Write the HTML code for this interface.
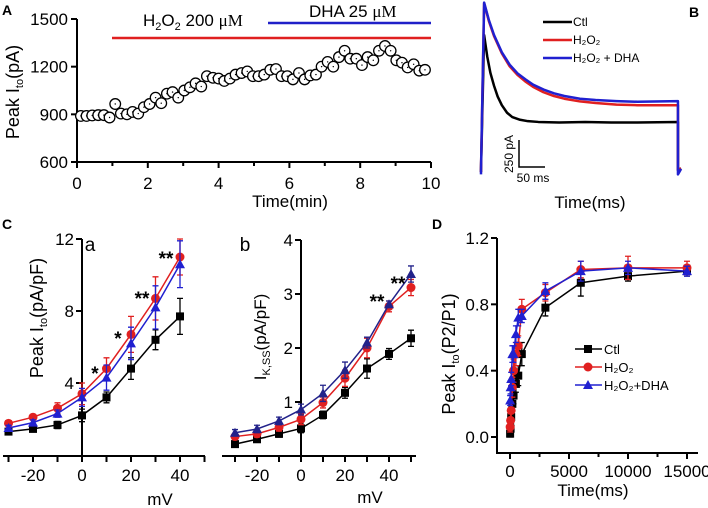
<!DOCTYPE html>
<html><head><meta charset="utf-8"><style>
html,body{margin:0;padding:0;background:#fff;}
svg{display:block;font-family:"Liberation Sans",Arial,sans-serif;}
</style></head><body>
<svg id="fig" width="708" height="508" viewBox="0 0 708 508" xmlns="http://www.w3.org/2000/svg">
<g id="layer"></g>
</svg>
<script>
// ---------- Panel A data ----------
const aTimes=[0.11,0.27,0.43,0.60,0.76,0.92,1.08,1.24,1.41,1.57,1.73,1.89,2.05,2.22,2.38,2.54,2.70,2.86,3.03,3.19,3.35,3.51,3.67,3.84,4.00,4.16,4.32,4.48,4.65,4.81,4.97,5.13,5.29,5.46,5.62,5.78,5.94,6.10,6.27,6.43,6.59,6.75,6.91,7.08,7.24,7.40,7.56,7.72,7.89,8.05,8.21,8.37,8.53,8.70,8.86,9.02,9.18,9.34,9.51,9.67,9.83];
const aValues=[890,890,893,895,895,880,965,905,900,915,905,945,965,1005,970,1030,1040,1005,1050,1070,1095,1075,1140,1130,1125,1110,1125,1150,1160,1170,1140,1140,1150,1180,1185,1140,1140,1120,1160,1120,1145,1150,1200,1230,1200,1260,1300,1250,1250,1210,1260,1240,1300,1330,1300,1240,1225,1195,1215,1175,1180];
const aXTicks=[0,2,4,6,8,10];
const aYTicks=[600,900,1200,1500];
// ---------- Panel B traces (ms, pA) ----------
const bCtlT=[0,0,6,12,18,25,32,40,50,60,75,90,110,150,200,250,300,378,378,384];
const bCtlI=[-20,0,1250,1050,900,780,680,600,530,490,465,452,445,440,445,440,440,445,0,15];
const bH2T=[0,0,6,15,25,40,55,70,85,100,120,140,160,190,220,260,300,378,378,384];
const bH2I=[-20,0,1546,1380,1240,1080,960,880,820,770,720,685,660,635,620,605,600,600,0,15];
const bDhaT=[0,0,6,15,25,40,55,70,85,100,120,140,160,190,220,260,300,378,378,384];
const bDhaI=[-40,0,1550,1390,1250,1090,975,895,840,790,745,710,685,660,648,638,632,638,-40,10];
// ---------- Panel Ca ----------
const caV=[-30,-20,-10,0,10,20,30,40];
const caCtl=[1.3,1.45,1.67,2.2,3.2,4.8,6.4,7.7];
const caCtlErr=[0.15,0.15,0.2,0.35,0.3,0.6,0.55,1.0];
const caH2=[1.76,2.1,2.6,3.4,4.8,6.7,8.7,11.0];
const caH2Err=[0.15,0.15,0.3,0.6,0.6,1.0,1.2,1.0];
const caDha=[1.5,1.8,2.3,3.2,4.3,6.2,8.2,10.6];
const caDhaErr=[0.15,0.15,0.2,0.5,0.7,0.9,1.2,1.3];
const caXTicks=[-20,0,20,40];
const caYTicks=[4,8,12];
// ---------- Panel Cb ----------
const cbV=[-30,-20,-10,0,10,20,30,40,50];
const cbCtl=[0.22,0.31,0.41,0.51,0.76,1.17,1.62,1.89,2.18];
const cbCtlErr=[0.05,0.05,0.06,0.08,0.07,0.1,0.18,0.1,0.15];
const cbH2=[0.36,0.41,0.53,0.68,0.99,1.44,2.0,2.77,3.12];
const cbH2Err=[0.05,0.06,0.07,0.1,0.1,0.15,0.18,0.1,0.15];
const cbDha=[0.43,0.5,0.65,0.86,1.16,1.59,2.1,2.81,3.37];
const cbDhaErr=[0.06,0.07,0.07,0.1,0.15,0.15,0.1,0.06,0.15];
const cbXTicks=[-20,0,20,40];
const cbYTicks=[1,2,3,4];
// ---------- Panel D ----------
const dT=[10,50,100,200,300,500,700,1000,3000,6000,10000,15000];
const dCtl=[0.02,0.05,0.12,0.2,0.25,0.32,0.37,0.5,0.78,0.93,0.97,1.0];
const dCtlErr=[0.02,0.03,0.04,0.04,0.05,0.05,0.06,0.07,0.05,0.08,0.03,0.03];
const dH2=[0.06,0.1,0.16,0.3,0.4,0.5,0.55,0.77,0.87,1.01,1.02,1.02];
const dH2Err=[0.03,0.04,0.05,0.06,0.07,0.07,0.06,0.06,0.05,0.05,0.07,0.04];
const dDha=[0.22,0.3,0.35,0.5,0.5,0.62,0.72,0.73,0.88,1.0,1.02,1.0];
const dDhaErr=[0.03,0.04,0.04,0.05,0.05,0.05,0.05,0.04,0.05,0.06,0.04,0.03];
const dXTicks=[0,5000,10000,15000];
const dYTicks=[0.0,0.4,0.8,1.2];

const NS="http://www.w3.org/2000/svg";
const L=document.getElementById('layer');
function mk(tag,attrs,parent){const e=document.createElementNS(NS,tag);for(const k in attrs)e.setAttribute(k,attrs[k]);(parent||L).appendChild(e);return e;}
function txt(x,y,s,size,anchor,parent){const t=mk('text',{x:x,y:y,'font-size':size,'text-anchor':anchor||'middle',fill:'#000'},parent);t.textContent=s;return t;}
function lin(d0,d1,r0,r1){return v=>r0+(v-d0)*(r1-r0)/(d1-d0);}

function series(g,X,Y,xs,ys,errs,color,shape,name){
  const sg=mk('g',{},g);
  
  
  let d='';
  xs.forEach((x,i)=>{d+=(i?'L':'M')+X(x)+' '+Y(ys[i]);});
  const p=mk('path',{d:d,fill:'none',stroke:color,'stroke-width':1.5},sg);
  
  
  xs.forEach((x,i)=>{
    const cx=X(x),cy=Y(ys[i]);
    if(errs){const e=errs[i];const y1=Y(ys[i]+e),y2=Y(ys[i]-e);
      const eb=mk('path',{d:`M${cx} ${y1}L${cx} ${y2}M${cx-3} ${y1}L${cx+3} ${y1}M${cx-3} ${y2}L${cx+3} ${y2}`,stroke:color,'stroke-width':1.3,fill:'none'},sg);
      
      }
    let m;
    if(shape==='sq')m=mk('rect',{x:cx-4,y:cy-4,width:8,height:8,fill:color},sg);
    else if(shape==='ci')m=mk('circle',{cx:cx,cy:cy,r:4.5,fill:color},sg);
    else m=mk('path',{d:`M${cx} ${cy-5}L${cx+5} ${cy+4}L${cx-5} ${cy+4}Z`,fill:color},sg);
    
    
  });
}

// ===== Panel A =====
(function(){
  const g=mk('g',{});
  
  
  const X=lin(0,10,77,431),Y=lin(600,1500,162,19);
  txt(7,15,'A',14,'middle',g).setAttribute('font-weight','bold');
  mk('path',{d:`M77 19L77 162L431 162`,stroke:'#000','stroke-width':2,fill:'none'},g);
  aYTicks.forEach(v=>{mk('line',{x1:71,x2:77,y1:Y(v),y2:Y(v),stroke:'#000','stroke-width':2},g);
    const t=txt(68,Y(v)+6,String(v),17,'end',g);});
  for(let v=0;v<=10;v++){mk('line',{x1:X(v),x2:X(v),y1:162,y2:v%2?166:168,stroke:'#000','stroke-width':2},g);}
  aXTicks.forEach(v=>{const t=txt(X(v),189,String(v),17,'middle',g);});
  const xt=txt(290,207,'Time(min)',17,'middle',g);
  const yt=mk('text',{transform:'translate(19,92) rotate(-90)','font-size':18,'text-anchor':'middle'},g);
  yt.innerHTML='Peak I<tspan font-size="11" dy="4">to</tspan><tspan dy="-4">(pA)</tspan>';
  
  const r=mk('line',{x1:112,x2:431,y1:38,y2:38,stroke:'#e02020','stroke-width':2.5},g);
  
  const b=mk('line',{x1:268,x2:431,y1:23,y2:23,stroke:'#2020c8','stroke-width':2.5},g);
  
  const t1=mk('text',{x:143,y:26,'font-size':17},g);
  t1.innerHTML='H<tspan font-size="11" dy="4">2</tspan><tspan dy="-4">O</tspan><tspan font-size="11" dy="4">2</tspan><tspan dy="-4"> 200 </tspan><tspan font-family="Liberation Serif">μM</tspan>';
  
  const t2=mk('text',{x:309,y:17,'font-size':17},g);
  t2.innerHTML='DHA 25 <tspan font-family="Liberation Serif">μM</tspan>';
  
  aTimes.forEach((t,i)=>{const c=mk('circle',{cx:X(t),cy:Y(aValues[i]),r:5.3,fill:'#fff',stroke:'#000','stroke-width':1.3},g);
    
    mk('circle',{cx:X(t),cy:Y(aValues[i]),r:0.7,fill:'#000'},g);});
})();

// ===== Panel B =====
(function(){
  const g=mk('g',{});
  
  
  const X=lin(0,380,481,679),Y=lin(0,250,170,143);
  txt(694,17,'B',14,'middle',g).setAttribute('font-weight','bold');
  function tr(T,I,color,name){let d='';T.forEach((t,i)=>{d+=(i?'L':'M')+X(t)+' '+Y(I[i]);});
    const p=mk('path',{d:d,fill:'none',stroke:color,'stroke-width':2.5,'stroke-linejoin':'round'},g);
    }
  tr(bCtlT,bCtlI,'#000','ctl-trace');
  tr(bH2T,bH2I,'#e02020','h2o2-trace');
  tr(bDhaT,bDhaI,'#2020d0','h2o2-dha-trace');
  const sb=mk('path',{d:'M519 140L519 167L545 167',stroke:'#000','stroke-width':1.5,fill:'none'},g);
  
  const s1=mk('text',{transform:'translate(513,154) rotate(-90)','font-size':12,'text-anchor':'middle'},g);s1.textContent='250 pA';
  txt(533,182,'50 ms',12,'middle',g);
  const leg=[['#000','Ctl',22],['#e02020','H₂O₂',40],['#2020d0','H₂O₂ + DHA',58]];
  leg.forEach(l=>{const ln=mk('line',{x1:543,x2:572,y1:l[2],y2:l[2],stroke:l[0],'stroke-width':2.5},g);
    
    const t=txt(573,l[2]+4,l[1],12,'start',g);});
  const xt=txt(590,208,'Time(ms)',17,'middle',g);
})();

// ===== Panel Ca =====
(function(){
  const g=mk('g',{});
  
  
  const X=lin(0,40,82,180),Y=lin(0,12,455,239);
  txt(7,229,'C',14,'middle',g).setAttribute('font-weight','bold');
  txt(90,251,'a',19,'middle',g);
  mk('line',{x1:82,x2:82,y1:239,y2:456,stroke:'#000','stroke-width':2},g);
  mk('line',{x1:3,x2:205,y1:456,y2:456,stroke:'#000','stroke-width':2},g);
  [-30,-20,-10,0,10,20,30,40,50].forEach(v=>mk('line',{x1:X(v),x2:X(v),y1:456,y2:462,stroke:'#000','stroke-width':2},g));
  caYTicks.forEach(v=>{mk('line',{x1:76,x2:82,y1:Y(v),y2:Y(v),stroke:'#000','stroke-width':2},g);
    const t=txt(74,Y(v)+6,String(v),17,'end',g);});
  caXTicks.forEach(v=>{const t=txt(X(v),481,String(v),17,'middle',g);});
  const xt=txt(160,505,'mV',17,'middle',g);
  const yt=mk('text',{transform:'translate(43,318) rotate(-90)','font-size':18,'text-anchor':'middle'},g);
  yt.innerHTML='Peak I<tspan font-size="11" dy="4">to</tspan><tspan dy="-4">(pA/pF)</tspan>';
  
  series(g,X,Y,caV,caCtl,caCtlErr,'#000','sq','ctl-series');
  series(g,X,Y,caV,caH2,caH2Err,'#e02020','ci','h2o2-series');
  series(g,X,Y,caV,caDha,caDhaErr,'#2020d0','tr','h2o2-dha-series');
  [[95,380,'*'],[118,345,'*'],[142,305,'**'],[166,265,'**']].forEach(s=>{const t=txt(s[0],s[1],s[2],19,'middle',g);t.setAttribute('font-weight','bold');});
})();

// ===== Panel Cb =====
(function(){
  const g=mk('g',{});
  
  
  const X=lin(0,50,301,411),Y=lin(0,4,456,240);
  txt(245,251,'b',19,'middle',g);
  mk('line',{x1:301,x2:301,y1:240,y2:456,stroke:'#000','stroke-width':2},g);
  mk('line',{x1:222,x2:416,y1:456,y2:456,stroke:'#000','stroke-width':2},g);
  [-30,-20,-10,0,10,20,30,40,50].forEach(v=>mk('line',{x1:X(v),x2:X(v),y1:456,y2:462,stroke:'#000','stroke-width':2},g));
  cbYTicks.forEach(v=>{mk('line',{x1:295,x2:301,y1:Y(v),y2:Y(v),stroke:'#000','stroke-width':2},g);
    const t=txt(293,Y(v)+6,String(v),17,'end',g);});
  cbXTicks.forEach(v=>{const t=txt(X(v),481,String(v),17,'middle',g);});
  const xt=txt(370,503,'mV',17,'middle',g);
  const yt=mk('text',{transform:'translate(266,337) rotate(-90)','font-size':17,'text-anchor':'middle'},g);
  yt.innerHTML='I<tspan font-size="11" dy="4">K,SS</tspan><tspan dy="-4">(pA/pF)</tspan>';
  
  series(g,X,Y,cbV,cbCtl,cbCtlErr,'#000','sq','ctl-series');
  series(g,X,Y,cbV,cbH2,cbH2Err,'#e02020','ci','h2o2-series');
  series(g,X,Y,cbV,cbDha,cbDhaErr,'#22228a','tr','h2o2-dha-series');
  [[377,308,'**'],[398,290,'**']].forEach(s=>{const t=txt(s[0],s[1],s[2],19,'middle',g);t.setAttribute('font-weight','bold');});
})();

// ===== Panel D =====
(function(){
  const g=mk('g',{});
  
  
  const X=lin(0,15000,510,687),Y=lin(0,1.2,437,238);
  txt(437,229,'D',14,'middle',g).setAttribute('font-weight','bold');
  mk('path',{d:'M497 238L497 453L698 453',stroke:'#000','stroke-width':2,fill:'none'},g);
  dYTicks.forEach(v=>{mk('line',{x1:491,x2:497,y1:Y(v),y2:Y(v),stroke:'#000','stroke-width':2},g);
    const t=txt(489,Y(v)+6,v.toFixed(1),17,'end',g);});
  for(let v=0;v<=15000;v+=2500)mk('line',{x1:X(v),x2:X(v),y1:453,y2:v%5000?457:459,stroke:'#000','stroke-width':2},g);
  dXTicks.forEach(v=>{const t=txt(X(v),477,String(v),17,'middle',g);});
  const xt=txt(593,496,'Time(ms)',17,'middle',g);
  const yt=mk('text',{transform:'translate(455,354) rotate(-90)','font-size':18,'text-anchor':'middle'},g);
  yt.innerHTML='Peak I<tspan font-size="11" dy="4">to</tspan><tspan dy="-4">(P2/P1)</tspan>';
  
  series(g,X,Y,dT,dCtl,dCtlErr,'#000','sq','ctl-series');
  series(g,X,Y,dT,dH2,dH2Err,'#e02020','ci','h2o2-series');
  series(g,X,Y,dT,dDha,dDhaErr,'#2020d0','tr','h2o2-dha-series');
  const leg=[['#000','sq','Ctl',349],['#e02020','ci','H₂O₂',367],['#2020d0','tr','H₂O₂+DHA',385]];
  leg.forEach(l=>{const ln=mk('line',{x1:575,x2:602,y1:l[3],y2:l[3],stroke:l[0],'stroke-width':1.5},g);
    
    const cx=588,cy=l[3];
    if(l[1]==='sq')mk('rect',{x:cx-4,y:cy-4,width:8,height:8,fill:l[0]},g);
    else if(l[1]==='ci')mk('circle',{cx:cx,cy:cy,r:4.5,fill:l[0]},g);
    else mk('path',{d:`M${cx} ${cy-5}L${cx+5} ${cy+4}L${cx-5} ${cy+4}Z`,fill:l[0]},g);
    const t=txt(604,l[3]+5,l[2],13,'start',g);});
})();
</script>
</body></html>
